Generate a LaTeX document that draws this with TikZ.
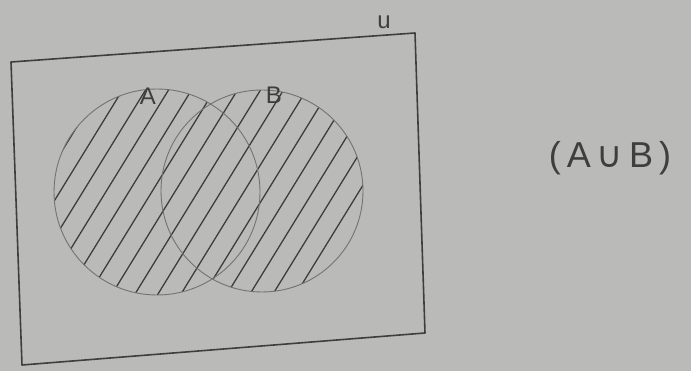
\documentclass[tikz,border=0pt]{standalone}
\usepackage{fontspec}
\setmainfont{Liberation Sans}
\newfontfamily\symfont{DejaVu Sans}
\begin{document}
\begin{tikzpicture}[x=1pt,y=-1pt,
  paper/.style={fill=paperbg},
  frame/.style={draw=inkdark,line width=1.6pt,line join=round},
  setcircle/.style={draw=inkmid,line width=0.9pt},
  hatch/.style={draw=inkdark,line width=1.3pt},
  lbl/.style={text=inkdark,font=\fontsize{24}{28}\selectfont,inner sep=0pt}]
\definecolor{paperbg}{RGB}{186,186,184}
\definecolor{inkdark}{RGB}{62,62,62}
\definecolor{inkmid}{RGB}{115,115,115}
\path[paper] (0,0) rectangle (691,371);
\useasboundingbox (0,0) rectangle (691,371);
% universe
\coordinate (tl) at (11,62);
\coordinate (tr) at (415,33);
\coordinate (br) at (425,333);
\coordinate (bl) at (22,365);
\draw[frame] (tl) -- (tr) -- (br) -- (bl) -- cycle;
% sets
\coordinate (ca) at (157,192);
\coordinate (cb) at (262,191);
\begin{scope}
  \clip (ca) circle[radius=103] (cb) circle[radius=101];
  \foreach \c in {-180,-157,...,400}
    \draw[hatch] (\c,320) -- ++(160,-260);
\end{scope}
\draw[setcircle] (ca) circle[radius=103];
\draw[setcircle] (cb) circle[radius=101];
% labels
\node[lbl] (la) at (148,96) {A};
\node[lbl] (lb) at (274,95) {B};
\node[lbl] (lu) at (384,22) {u};
\node[text=inkdark,font=\fontsize{36}{42}\selectfont,inner sep=0pt] (title) at (610,158) {(\,A\,{\symfont ∪}\,B\,)};
\end{tikzpicture}
\end{document}
